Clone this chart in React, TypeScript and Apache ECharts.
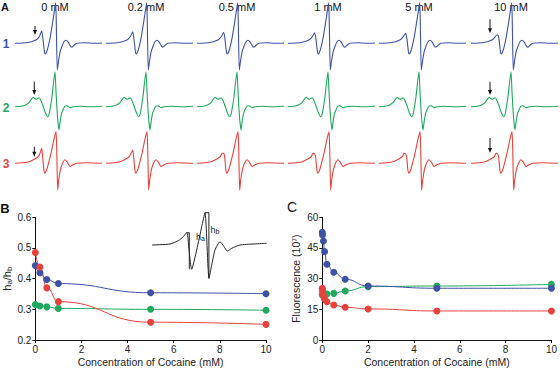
import React, { useEffect, useRef } from "react";
import * as echarts from "echarts";

const FONT = "Liberation Sans, Arial, Helvetica, sans-serif";
const BLUE = "#3f51a3";
const GREEN = "#1fa85e";
const RED = "#e8413c";

// Panel A: concentrations and row labels
const concLabels = ["0 mM", "0.2 mM", "0.5 mM", "1 mM", "5 mM", "10 mM"];
const rowLabels = ["1", "2", "3"];

// Spectrum traces: [field position, amplitude]; null = first peak (per column below)
const blueShape: [number, number | null][] = [
  [0, 0], [8, 0.3], [14, 1], [19, 2.5], [22, 4], [24.5, 7], [26.7, null], [28, 4], [29.5, -9], [30.3, -10.7],
  [31.5, -9], [33, -4], [35, 5], [37, 17], [39, 30], [40.7, 40.6], [41.3, 20], [42.3, -26.7], [43.5, -18],
  [45, -9], [47, -3], [49, 1.5], [51, 3], [53, 1.5], [55, -2], [56.7, -4], [59, -2], [62, 0], [70, 0.5],
  [78, 0], [87, 0.3],
];
const greenShape: [number, number | null][] = [
  [0, 0], [6, 0.5], [10, 1.5], [14, 4], [16, 7], [18.3, 9.5], [20, 8], [21.7, 7.5], [23, 8.5], [24.3, null],
  [26, 6], [28, 1], [30, -5], [32.7, -10], [34, -8], [35.5, 0], [37, 10], [38.5, 24], [40, 35], [41, 15],
  [42.5, -10], [44, -23.3], [45, -16], [46.5, -7], [48.5, -2], [50, 0.5], [52, 1], [55, -1], [58, 0],
  [65, 0.5], [75, 0], [87, 0.5],
];
const redShape: [number, number | null][] = [
  [0, 0], [8, 0.5], [14, 1.5], [18.3, 3.5], [21, 5], [23.5, 7], [25, 10], [26.7, null], [27.7, 6], [28.8, -6],
  [30, -10], [31.5, -7], [33.5, 0], [36, 10], [38.5, 22], [41, 31.7], [41.8, 10], [42.7, -26.7], [43.8, -16],
  [45.5, -6], [47.5, 0], [50, 3.5], [52.5, 1], [55, -3.3], [58, -1.5], [62, 0], [72, 0.5], [87, 0],
];
const bluePeaks = [12.6, 11.6, 11, 10.6, 10, 8.5];
const greenPeaks = [9, 9, 9, 9, 9, 9];
const redPeaks = [15, 13.3, 10, 9.3, 9.3, 9.3];

// Panel B
const bConc = [0, 0.2, 0.5, 1, 5, 10];
const bBlue = [0.443, 0.419, 0.397, 0.384, 0.354, 0.351];
const bGreen = [0.316, 0.311, 0.308, 0.303, 0.3, 0.297];
const bRed = [0.485, 0.438, 0.37, 0.325, 0.258, 0.251];

// Panel C
const cBlueX = [0, 0.01, 0.05, 0.1, 0.2, 0.5, 1, 2, 5, 10];
const cBlue = [52.7, 51.3, 48.4, 43.2, 37.0, 33.1, 29.7, 26.4, 25.3, 25.3];
const cGreenX = [0, 0.2, 0.5, 1, 2, 5, 10];
const cGreen = [22.0, 22.5, 22.8, 24.0, 26.1, 26.4, 27.2];
const cRedX = [0, 0.01, 0.02, 0.05, 0.1, 0.2, 0.5, 1, 2, 5, 10];
const cRed = [25.3, 24.1, 22.8, 21.5, 20.0, 18.7, 17.1, 16.0, 15.2, 14.2, 14.2];

// Inset spectrum in B
const insetTrace: [number, number][] = [
  [0, 0], [18, 1], [26.3, 4.3], [31.3, 8.3], [34.7, 12.3], [35.5, 11], [39.7, -24.3], [44.7, -5], [49.7, 18.3],
  [53, 32.3], [57, -33.3], [59.7, -20], [63, -5], [68, 3.3], [72, -1.7], [75.3, -6], [79.7, -3.3], [88, 0],
  [114.7, 1.7],
];
const insetHa: [number, number][] = [[34.7, 12.3], [37.3, 12.3], [37.3, -24.3]];
const insetHb: [number, number][] = [[53, 32.3], [56.9, 32.3], [56.9, -33.3]];

const colStarts = [15, 106, 197, 288, 379, 471];
const rowCfg = [
  { shape: blueShape, peaks: bluePeaks, color: BLUE, base: 43.3, min: -30, max: 42 },
  { shape: greenShape, peaks: greenPeaks, color: GREEN, base: 106.7, min: -26, max: 37 },
  { shape: redShape, peaks: redPeaks, color: RED, base: 163.3, min: -30, max: 34 },
];

function buildOption() {
  const grid: any[] = [];
  const xAxis: any[] = [];
  const yAxis: any[] = [];
  const series: any[] = [];
  const graphic: any[] = [];

  rowCfg.forEach((rc, r) => {
    colStarts.forEach((cx, c) => {
      const gi = grid.length;
      grid.push({ left: cx, top: rc.base - rc.max, width: 87, height: rc.max - rc.min });
      xAxis.push({ gridIndex: gi, type: "value", min: 0, max: 87, show: false });
      yAxis.push({ gridIndex: gi, type: "value", min: rc.min, max: rc.max, show: false });
      series.push({
        type: "line",
        xAxisIndex: gi,
        yAxisIndex: gi,
        data: rc.shape.map(([x, y]) => [x, y === null ? rc.peaks[c] : y]),
        showSymbol: false,
        smooth: 0.2,
        clip: false,
        lineStyle: { color: rc.color, width: 1.1 },
      });
    });
  });

  const axisCommon = {
    axisLine: { show: true, lineStyle: { color: "#111", width: 1 } },
    axisTick: { show: true, length: 3, lineStyle: { color: "#111" } },
    splitLine: { show: false },
    axisLabel: { fontSize: 10, color: "#222", fontFamily: FONT, margin: 4 },
    nameTextStyle: { fontSize: 10.5, color: "#222", fontFamily: FONT },
  };

  // Panel B
  const gB = grid.length;
  grid.push({ left: 33, top: 217.3, width: 233, height: 123.4 });
  xAxis.push({
    gridIndex: gB, type: "value", min: 0, max: 10, interval: 2, ...axisCommon,
    name: "Concentration of Cocaine (mM)", nameLocation: "middle", nameGap: 16,
  });
  yAxis.push({
    gridIndex: gB, type: "value", min: 0.2, max: 0.6, interval: 0.1, ...axisCommon,
    axisLabel: { ...axisCommon.axisLabel, formatter: (v: number) => v.toFixed(1) },
    name: "{h|h}{s|a}{h|/h}{s|b}", nameLocation: "middle", nameGap: 18,
    nameTextStyle: {
      ...axisCommon.nameTextStyle,
      rich: {
        h: { fontSize: 11, lineHeight: 14, fontFamily: FONT, color: "#222" },
        s: { fontSize: 8, lineHeight: 14, verticalAlign: "bottom", fontFamily: FONT, color: "#222" },
      },
    },
  });
  const bSeries = [
    { d: bGreen, color: GREEN },
    { d: bBlue, color: BLUE },
    { d: bRed, color: RED },
  ];
  bSeries.forEach((s) => {
    series.push({
      type: "line", xAxisIndex: gB, yAxisIndex: gB,
      data: bConc.map((x, i) => [x, s.d[i]]),
      smooth: true, smoothMonotone: "x", symbol: "circle", symbolSize: 7,
      lineStyle: { color: s.color, width: 1 }, itemStyle: { color: s.color },
    });
  });

  // Panel C
  const gC = grid.length;
  grid.push({ left: 322.3, top: 217.3, width: 232, height: 122.7 });
  xAxis.push({
    gridIndex: gC, type: "value", min: 0, max: 10, interval: 2, ...axisCommon,
    name: "Concentration of Cocaine (mM)", nameLocation: "middle", nameGap: 16,
  });
  yAxis.push({
    gridIndex: gC, type: "value", min: 0, max: 60, interval: 15, ...axisCommon,
    name: "Fluorescence (10⁷)", nameLocation: "middle", nameGap: 21,
  });
  const cSeries = [
    { x: cGreenX, d: cGreen, color: GREEN },
    { x: cBlueX, d: cBlue, color: BLUE },
    { x: cRedX, d: cRed, color: RED },
  ];
  cSeries.forEach((s) => {
    series.push({
      type: "line", xAxisIndex: gC, yAxisIndex: gC,
      data: s.x.map((x, i) => [x, s.d[i]]),
      smooth: true, smoothMonotone: "x", symbol: "circle", symbolSize: 7,
      lineStyle: { color: s.color, width: 1 }, itemStyle: { color: s.color },
    });
  });

  // Inset in B
  const gI = grid.length;
  grid.push({ left: 152, top: 212, width: 115, height: 67 });
  xAxis.push({ gridIndex: gI, type: "value", min: 0, max: 115, show: false });
  yAxis.push({ gridIndex: gI, type: "value", min: -34, max: 33, show: false });
  [insetTrace, insetHa, insetHb].forEach((d, k) => {
    series.push({
      type: "line", xAxisIndex: gI, yAxisIndex: gI, data: d, showSymbol: false,
      smooth: k === 0 ? 0.2 : false, clip: false, z: 5,
      lineStyle: { color: "#222", width: 1 },
    });
  });

  // Texts
  const txt = (text: string, x: number, y: number, extra: any = {}) => ({
    type: "text", x, y,
    style: { text, fontFamily: FONT, fontSize: 11, fill: "#111", align: "center", verticalAlign: "middle", ...extra },
  });
  graphic.push(txt("A", 5, 7, { fontSize: 11, fontWeight: "bold" }));
  graphic.push(txt("B", 5, 208, { fontSize: 13, fontWeight: "bold" }));
  graphic.push(txt("C", 292, 207, { fontSize: 14 }));
  concLabels.forEach((l, c) => graphic.push(txt(l, colStarts[c] + 40, 7)));
  rowLabels.forEach((l, r) =>
    graphic.push(txt(l, 6, rowCfg[r].base + 1, { fontSize: 12, fontWeight: "bold", fill: rowCfg[r].color }))
  );
  graphic.push({
    type: "text", x: 196, y: 231,
    style: {
      text: "{h|h}{s|a}", fontFamily: FONT,
      rich: { h: { fontSize: 9, lineHeight: 11, fill: "#222" }, s: { fontSize: 7, lineHeight: 11, verticalAlign: "bottom", fill: "#222" } },
    },
  });
  graphic.push({
    type: "text", x: 210.5, y: 224,
    style: {
      text: "{h|h}{s|b}", fontFamily: FONT,
      rich: { h: { fontSize: 9, lineHeight: 11, fill: "#222" }, s: { fontSize: 7, lineHeight: 11, verticalAlign: "bottom", fill: "#222" } },
    },
  });

  // Arrows marking the shoulders
  const arrows = [
    [35, 26, 35], [490, 19.3, 33.3],
    [34.3, 81.7, 95], [490, 81.7, 95],
    [34.3, 146.7, 156.7], [490, 138, 153],
  ];
  arrows.forEach(([x, y1, y2]) => {
    graphic.push({
      type: "group",
      children: [
        { type: "line", shape: { x1: x, y1, x2: x, y2: y2 - 3 }, style: { stroke: "#111", lineWidth: 1 } },
        { type: "polygon", shape: { points: [[x - 2, y2 - 5], [x + 2, y2 - 5], [x, y2]] }, style: { fill: "#111" } },
      ],
    });
  });

  return { animation: false, backgroundColor: "#fff", grid, xAxis, yAxis, series, graphic };
}

export default function App() {
  const ref = useRef<HTMLDivElement>(null);
  useEffect(() => {
    if (!ref.current) return;
    const chart = echarts.init(ref.current, undefined, { renderer: "svg" });
    chart.setOption(buildOption() as any);
    return () => chart.dispose();
  }, []);
  return <div ref={ref} style={{ position: "fixed", left: 0, top: 0, width: 560, height: 368 }} />;
}
